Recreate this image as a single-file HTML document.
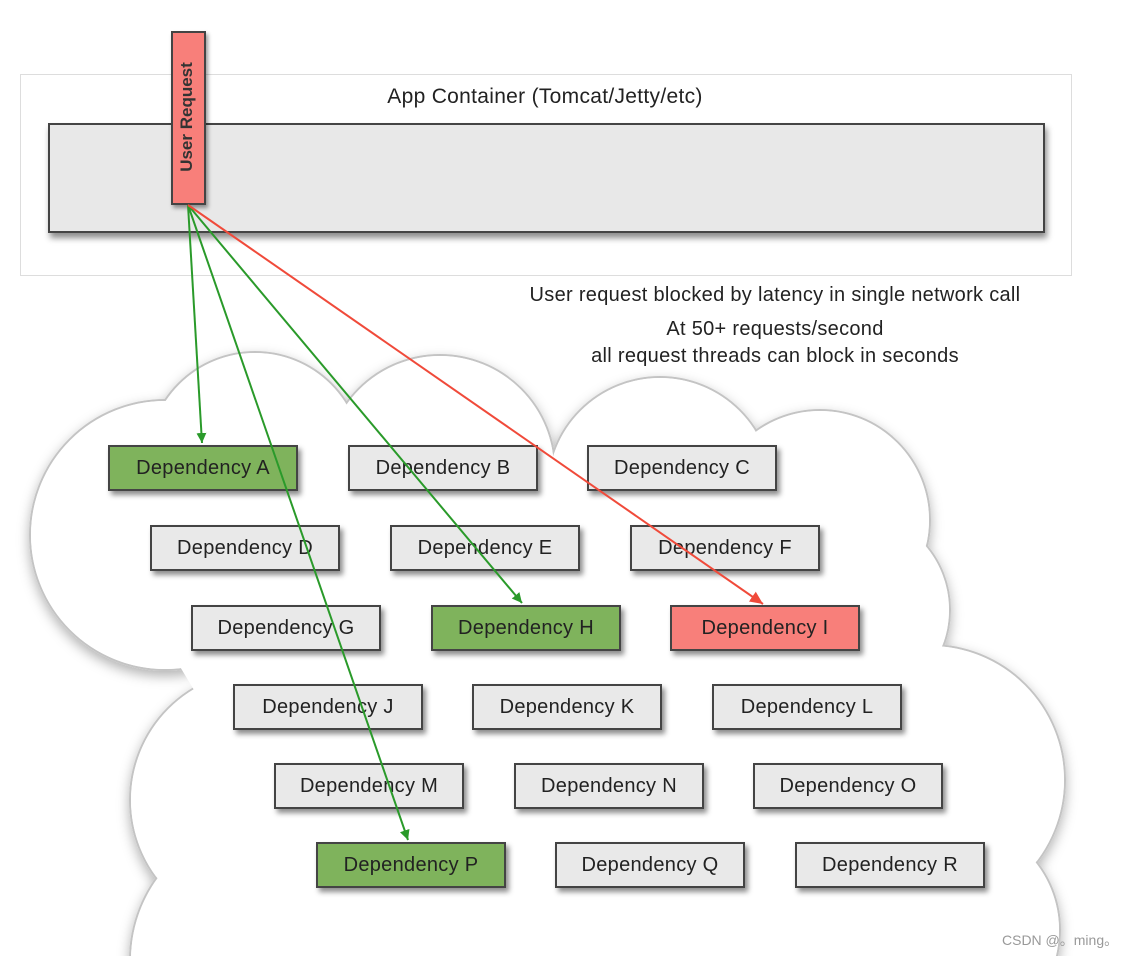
<!DOCTYPE html>
<html><head><meta charset="utf-8"><style>
html,body{margin:0;width:1133px;height:956px;overflow:hidden}
body{background:#fff;position:relative;font-family:"Liberation Sans",sans-serif;}
.abs{position:absolute}
.box{position:absolute;width:186px;height:42px;border:2px solid #444;background:#e9e9e9;box-shadow:3px 4px 5px rgba(0,0,0,.45);font-size:20px;letter-spacing:0.3px;color:#222;text-align:center;line-height:42px;}
.g{background:#7fb35c}.r{background:#f87f7a}
.t{position:absolute;font-size:20px;letter-spacing:0.3px;color:#222;white-space:nowrap;text-align:center}
</style></head><body>
<div class="abs" style="left:20px;top:74px;width:1050px;height:200px;border:1px solid #ddd;"></div>
<div class="abs" style="left:48px;top:123px;width:993px;height:106px;border:2px solid #444;background:#e8e8e8;box-shadow:2px 5px 6px rgba(0,0,0,.45)"></div>
<div class="t" style="left:300px;width:490px;top:85px;font-size:21px">App Container (Tomcat/Jetty/etc)</div>
<svg class="abs" style="left:0;top:0" width="1133" height="956">
<defs><filter id="sh" x="-10%" y="-10%" width="120%" height="120%"><feDropShadow dx="0" dy="5" stdDeviation="6" flood-color="#000" flood-opacity=".3"/></filter>
<marker id="ga" markerWidth="10" markerHeight="14" refX="10" refY="5" orient="auto" markerUnits="userSpaceOnUse"><path d="M0,0 L10,5 L0,10 z" fill="#2a9a2a"/></marker>
<marker id="ra" markerWidth="14" markerHeight="12" refX="13" refY="6" orient="auto" markerUnits="userSpaceOnUse"><path d="M0,0 L13,6 L0,12 z" fill="#f04a3a"/></marker></defs>
<g filter="url(#sh)" stroke="#c4c4c4" stroke-width="2" fill="#fff">
<circle cx="165" cy="535" r="135"/><circle cx="255" cy="460" r="108"/><circle cx="440" cy="470" r="115"/><circle cx="660" cy="490" r="113"/><circle cx="820" cy="520" r="110"/><circle cx="850" cy="610" r="100"/><circle cx="930" cy="780" r="135"/><circle cx="260" cy="800" r="130"/><circle cx="560" cy="860" r="170"/><circle cx="270" cy="960" r="140"/><circle cx="800" cy="900" r="140"/><circle cx="450" cy="960" r="130"/><circle cx="660" cy="960" r="130"/><circle cx="950" cy="930" r="110"/>
</g>
<g fill="#fff">
<circle cx="165" cy="535" r="134"/><circle cx="255" cy="460" r="107"/><circle cx="440" cy="470" r="114"/><circle cx="660" cy="490" r="112"/><circle cx="820" cy="520" r="109"/><circle cx="850" cy="610" r="99"/><circle cx="930" cy="780" r="134"/><circle cx="260" cy="800" r="129"/><circle cx="560" cy="860" r="169"/><circle cx="270" cy="960" r="139"/><circle cx="800" cy="900" r="139"/><circle cx="450" cy="960" r="129"/><circle cx="660" cy="960" r="129"/><circle cx="950" cy="930" r="109"/>
<polygon points="170,500 800,500 880,650 930,780 950,956 270,956 260,800 170,650"/>
</g>
</svg>
<div class="box g" style="left:108px;top:445px">Dependency A</div>
<div class="box" style="left:348px;top:445px">Dependency B</div>
<div class="box" style="left:587px;top:445px">Dependency C</div>
<div class="box" style="left:150px;top:525px">Dependency D</div>
<div class="box" style="left:390px;top:525px">Dependency E</div>
<div class="box" style="left:630px;top:525px">Dependency F</div>
<div class="box" style="left:191px;top:605px">Dependency G</div>
<div class="box g" style="left:431px;top:605px">Dependency H</div>
<div class="box r" style="left:670px;top:605px">Dependency I</div>
<div class="box" style="left:233px;top:684px">Dependency J</div>
<div class="box" style="left:472px;top:684px">Dependency K</div>
<div class="box" style="left:712px;top:684px">Dependency L</div>
<div class="box" style="left:274px;top:763px">Dependency M</div>
<div class="box" style="left:514px;top:763px">Dependency N</div>
<div class="box" style="left:753px;top:763px">Dependency O</div>
<div class="box g" style="left:316px;top:842px">Dependency P</div>
<div class="box" style="left:555px;top:842px">Dependency Q</div>
<div class="box" style="left:795px;top:842px">Dependency R</div>
<div class="abs r" style="left:171px;top:31px;width:31px;height:170px;border:2px solid #444;background:#f87f7a;box-shadow:2px 3px 4px rgba(0,0,0,.4)"></div>
<div class="abs" style="left:187px;top:117px;transform:translate(-50%,-50%) rotate(-90deg);font-size:17px;font-weight:bold;color:#333;white-space:nowrap">User Request</div>
<svg class="abs" style="left:0;top:0" width="1133" height="956">
<g stroke="#2a9a2a" stroke-width="2" fill="none">
<line x1="188" y1="205" x2="202" y2="443" marker-end="url(#ga)"/>
<line x1="188" y1="205" x2="408" y2="840" marker-end="url(#ga)"/>
<line x1="188" y1="205" x2="522" y2="603" marker-end="url(#ga)"/>
</g>
<line x1="188" y1="205" x2="763" y2="604" stroke="#f04a3a" stroke-width="2" marker-end="url(#ra)"/>
</svg>
<div class="t" style="left:480px;width:590px;top:284px">User request blocked by latency in single network call</div>
<div class="t" style="left:480px;width:590px;top:318px">At 50+ requests/second</div>
<div class="t" style="left:480px;width:590px;top:345px">all request threads can block in seconds</div>
<div class="abs" style="left:1002px;top:930px;font-size:14px;color:#999;font-family:'Liberation Sans','Noto Sans CJK SC',sans-serif">CSDN @。ming。</div>
</body></html>
